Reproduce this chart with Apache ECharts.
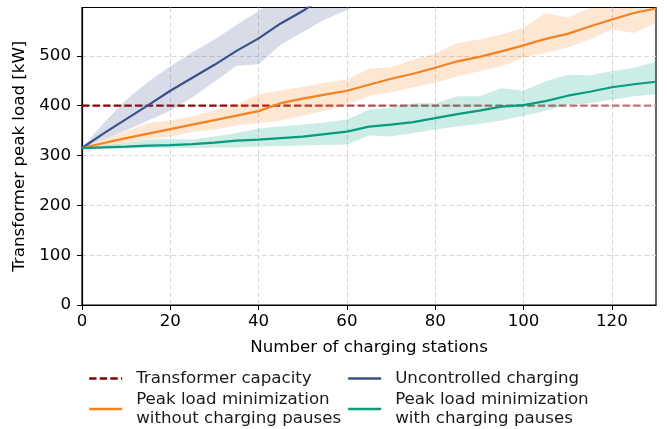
<!DOCTYPE html>
<html>
<head>
<meta charset="utf-8">
<script src="https://cdn.jsdelivr.net/npm/echarts@6/dist/echarts.min.js"></script>
<style>
html,body{margin:0;padding:0;background:#fff;}
#chart{width:667px;height:429px;}
</style>
</head>
<body>
<div id="chart"></div>
<script>
// ---- data ----
const stations = [0,5,10,15,20,25,30,35,40,45,50,55,60,65,70,75,80,85,90,95,100,105,110,115,120,125,130];
const capacity = 400;

const uncontrolledMean = [315,345,373,401,430,456,482,510,535,565,590,620,645,670];
const uncontrolledLow  = [315,332,350,370,390,417,448,480,483,522,548,573,592,615];
const uncontrolledHigh = [315,366,412,448,479,507,533,562,590,620,650,675,700,725];

const noPauseMean = [315,325,335,344,353,362,371,380,389,405,414,422,430,442,454,464,476,489,498,509,521,534,544,559,573,586,595];
const noPauseLow  = [315,318,325,333,338,347,352,360,365,370,380,390,402,420,427,437,446,459,469,479,496,506,516,533,553,546,566];
const noPauseHigh = [315,332,348,365,370,379,391,402,423,430,438,446,452,474,477,492,504,526,533,543,556,586,577,596,610,615,620];

const pauseMean = [315,316.5,318,320,321,323,326,330,332,335,338,343,348,358,362,367,375,383,390,398,401,409,420,428,437,443,448];
const pauseLow  = [315,314,314,315,315,315,316,316,318,319,320,321,322,340,338,345,352,358,363,370,380,390,402,405,412,419,423];
const pauseHigh = [315,320,325,332,333,332,338,345,354,358,362,366,372,392,396,405,405,419,419,435,430,449,462,461,469,476,488];

const xTicks = [0,20,40,60,80,100,120];
const yTicks = [0,100,200,300,400,500];

const names = {
  cap: 'Transformer capacity',
  unc: 'Uncontrolled charging',
  nop: 'Peak load minimization\nwithout charging pauses',
  pau: 'Peak load minimization\nwith charging pauses'
};

// ---- helpers ----
const FONT = 'DejaVu Sans';
const FS = 16.67;
function pairs(arr){ return arr.map((v,i)=>[stations[i], v]); }
function band(lo, hi, color){
  return {
    type:'custom', silent:true, z:1, clip:true,
    data:[[0, lo[0]]],
    renderItem: function(params, api){
      const pts = [];
      for (let i = 0; i < hi.length; i++) pts.push(api.coord([stations[i], hi[i]]));
      for (let i = lo.length - 1; i >= 0; i--) pts.push(api.coord([stations[i], lo[i]]));
      const cs = params.coordSys;
      return {
        type:'group',
        clipPath:{type:'rect', shape:{x:cs.x, y:cs.y, width:cs.width, height:cs.height}},
        children:[{type:'polygon', shape:{points:pts}, style:{fill:color, stroke:null}}]
      };
    }
  };
}
function lineSeries(name, arr, color){
  return { name:name, type:'line', data:pairs(arr), showSymbol:false, symbol:'none',
    lineStyle:{color:color, width:2.2}, itemStyle:{color:color}, z:3, clip:true };
}

const C_BLUE = '#3b4f8a', C_ORANGE = '#f5821f', C_GREEN = '#079b7f';

const chart = echarts.init(document.getElementById('chart'), null, {renderer:'canvas'});

function legendFor(name, left, top, color, dashed){
  return {
    data:[name], left:left, top:top, padding:0, itemWidth:33, itemHeight:14,
    textStyle:{fontFamily:FONT, fontSize:FS, color:'#1a1a1a', lineHeight:19, padding:[0,0,0,9]},
    lineStyle: dashed ? {color:color, width:2.3, type:[7.4,3.2]} : {color:color, width:2.3},
    itemStyle:{color:color, opacity:0}
  };
}

chart.setOption({
  animation:false,
  backgroundColor:'#fff',
  grid:{left:82, right:11, top:7.5, bottom:124, show:true, borderColor:'#000', borderWidth:1.2, backgroundColor:'transparent'},
  xAxis:{
    type:'value', min:0, max:130, interval:20,
    name:'Number of charging stations', nameLocation:'middle', nameGap:34,
    nameTextStyle:{fontFamily:FONT, fontSize:FS, color:'#000'},
    axisLine:{show:true, lineStyle:{color:'#000', width:1.2}},
    axisTick:{show:true, length:5, lineStyle:{color:'#000', width:1}, customValues:xTicks},
    axisLabel:{fontFamily:FONT, fontSize:FS, color:'#000', margin:8, customValues:xTicks},
    splitLine:{show:true, lineStyle:{color:'#d6d6d6', width:1, type:[4.5,3]}}
  },
  yAxis:{
    type:'value', min:0, max:597, interval:100,
    name:'Transformer peak load [kW]', nameLocation:'middle', nameGap:49,
    nameTextStyle:{fontFamily:FONT, fontSize:FS, color:'#000'},
    axisLine:{show:true, lineStyle:{color:'#000', width:1.2}},
    axisTick:{show:true, length:5, lineStyle:{color:'#000', width:1}, customValues:yTicks},
    axisLabel:{fontFamily:FONT, fontSize:FS, color:'#000', margin:11, customValues:yTicks},
    splitLine:{show:true, lineStyle:{color:'#d6d6d6', width:1, type:[4.5,3]}}
  },
  legend:[
    legendFor(names.cap, 88, 369, '#8b0000', true),
    legendFor(names.unc, 347, 369, C_BLUE, false),
    legendFor(names.nop, 88, 390, C_ORANGE, false),
    legendFor(names.pau, 347, 390, C_GREEN, false)
  ],
  series:[
    { name:names.cap, type:'line', data:[[0,capacity],[130,capacity]], showSymbol:false, symbol:'none', z:0,
      lineStyle:{width:2.3, type:[7.4,3.2], color:{type:'linear', x:0, y:0, x2:1, y2:0, colorStops:[
        {offset:0, color:'#8b0000'},{offset:0.3, color:'#900a0a'},{offset:0.45, color:'#ab4a4a'},{offset:1, color:'#c27a7a'}]}},
      itemStyle:{color:'#8b0000'} },
    band(uncontrolledLow, uncontrolledHigh, 'rgba(59,79,138,0.2)'),
    band(noPauseLow, noPauseHigh, 'rgba(245,130,32,0.2)'),
    band(pauseLow, pauseHigh, 'rgba(0,158,129,0.2)'),
    lineSeries(names.unc, uncontrolledMean, C_BLUE),
    lineSeries(names.nop, noPauseMean, C_ORANGE),
    lineSeries(names.pau, pauseMean, C_GREEN)
  ]
});
</script>
</body>
</html>
